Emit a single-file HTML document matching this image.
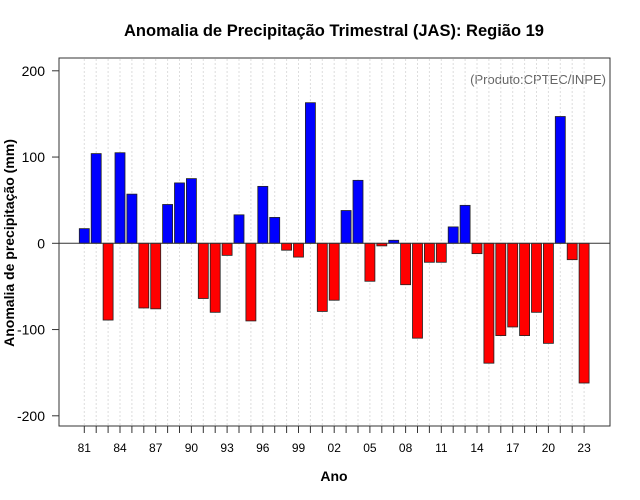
<!DOCTYPE html>
<html><head><meta charset="utf-8"><style>
body{margin:0;background:#fff;}
svg{display:block;font-family:"Liberation Sans",sans-serif;}
</style></head><body>
<svg id="chart" width="640" height="500" viewBox="0 0 640 500">
<rect width="640" height="500" fill="#fff"/>
<text x="334" y="36" text-anchor="middle" font-size="16.5" font-weight="bold">Anomalia de Precipitação Trimestral (JAS): Região 19</text>
<text x="606" y="84" text-anchor="end" font-size="13" fill="#666">(Produto:CPTEC/INPE)</text>
<text x="334" y="481" text-anchor="middle" font-size="14" font-weight="bold">Ano</text>
<text transform="translate(14,243) rotate(-90)" text-anchor="middle" font-size="14" font-weight="bold">Anomalia de precipitação (mm)</text>
<g id="grid"></g><g id="bars"></g><g id="axes"></g>
<rect x="59" y="58" width="551" height="368" fill="none" stroke="#333" stroke-width="1"/>
</svg>
<script>
const years = [];
for (let y = 1981; y <= 2023; y++) years.push(y);
const values = [17,104,-89,105,57,-75,-76,45,70,75,-64,-80,-14,33,-90,66,30,-8,-16,163,-79,-66,38,73,-44,-3,3.5,-48,-110,-22,-22,19,44,-12,-139,-107,-97,-107,-80,-116,147,-19,-162];
const yTicks = [200,100,0,-100,-200];
const xLabelYears = [1981,1984,1987,1990,1993,1996,1999,2002,2005,2008,2011,2014,2017,2020,2023];
const NS = "http://www.w3.org/2000/svg";
const yS = v => 243.3 - v * 0.8625;
const xS = yr => 84.3 + (yr - 1981) * 11.9;
function mk(tag, attrs, parent){const e=document.createElementNS(NS,tag);for(const k in attrs)e.setAttribute(k,attrs[k]);parent.appendChild(e);return e;}
const grid=document.getElementById('grid'), bars=document.getElementById('bars'), axes=document.getElementById('axes');
years.forEach((yr,i)=>{
  const x=xS(yr);
  const g=mk('line',{x1:x,x2:x,y1:59,y2:425,stroke:'#ddd','stroke-dasharray':'2,2'},grid);
  
  
  const v=values[i];
  const top=Math.min(yS(v),yS(0)), h=Math.abs(yS(v)-yS(0));
  const b=mk('rect',{x:x-5,y:top,width:10,height:Math.max(h,0.5),fill:v>=0?'#0000ff':'#ff0000',stroke:'#222','stroke-width':0.8},bars);
  
  
  const t=mk('line',{x1:x,x2:x,y1:426,y2:433,stroke:'#333'},axes);
  
  
});
mk('line',{x1:59,x2:610,y1:yS(0),y2:yS(0),stroke:'#333','stroke-width':1},axes);
xLabelYears.forEach(yr=>{
  const t=mk('text',{x:xS(yr),y:452,'text-anchor':'middle','font-size':12},axes);
  t.textContent=String(yr%100).padStart(2,'0');
  
  
});
yTicks.forEach(v=>{
  const l=mk('line',{x1:52,x2:59,y1:yS(v),y2:yS(v),stroke:'#333'},axes);
  
  
  const t=mk('text',{x:45,y:yS(v)+5,'text-anchor':'end','font-size':14},axes);
  t.textContent=v;
  
  
});
</script>
</body></html>
